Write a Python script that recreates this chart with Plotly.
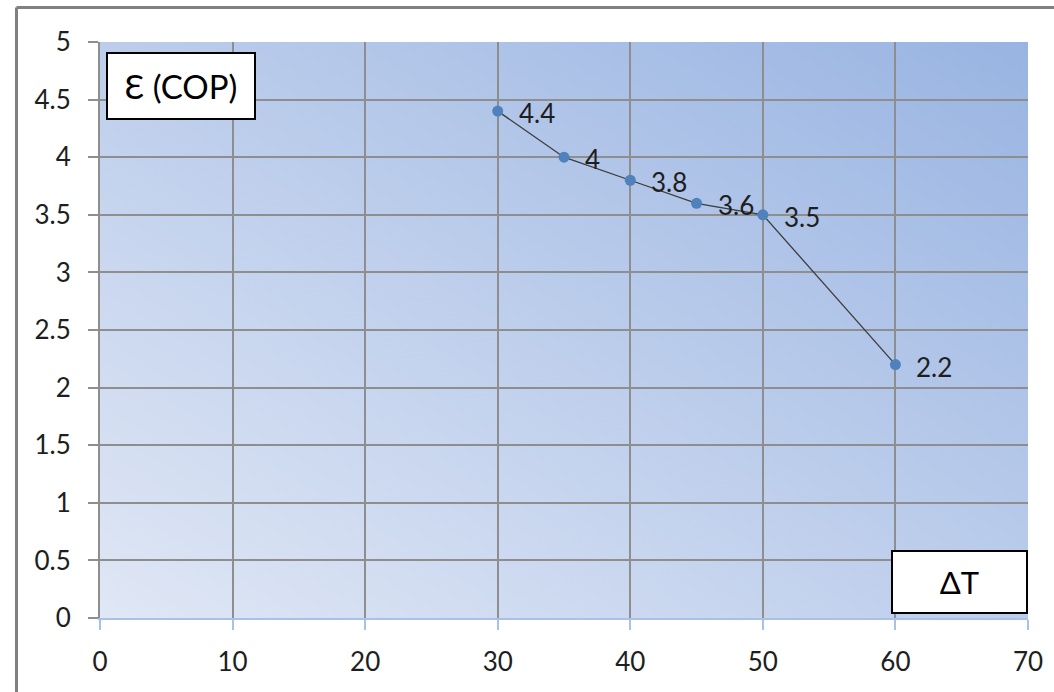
import base64
import plotly.graph_objects as go

# Temperature difference vs coefficient of performance
delta_t = [30, 35, 40, 45, 50, 60]
cop = [4.4, 4.0, 3.8, 3.6, 3.5, 2.2]
cop_labels = ["4.4", "4", "3.8", "3.6", "3.5", "2.2"]

x_ticks = [0, 10, 20, 30, 40, 50, 60, 70]
y_ticks = [0, 0.5, 1, 1.5, 2, 2.5, 3, 3.5, 4, 4.5, 5]
y_tick_text = ["0", "0.5", "1", "1.5", "2", "2.5", "3", "3.5", "4", "4.5", "5"]

W, H = 1054, 692
L, R, T, B = 100, 26, 42, 74
PW, PH = W - L - R, H - T - B

FONT = "Lato"
TEXT_COLOR = "#1e1e1e"


def px_x(p):
    return (p - L) / PW


def px_y(p):
    return (H - B - p) / PH


# diagonal light-to-blue fill for the plotting area
svg = (
    '<svg xmlns="http://www.w3.org/2000/svg" width="928" height="576" '
    'preserveAspectRatio="none"><defs><linearGradient id="g" x1="0" y1="1" '
    'x2="1" y2="0"><stop offset="0" stop-color="#e0e7f5"/>'
    '<stop offset="1" stop-color="#99b4e2"/></linearGradient></defs>'
    '<rect width="100%" height="100%" fill="url(#g)"/></svg>'
)
bg_src = "data:image/svg+xml;base64," + base64.b64encode(svg.encode()).decode()

fig = go.Figure()
fig.add_trace(
    go.Scatter(
        x=delta_t,
        y=cop,
        mode="lines+markers",
        line=dict(color="#3c3c3c", width=1.3),
        marker=dict(color="#4f81bd", size=11),
        showlegend=False,
    )
)

# value labels to the right of each point
for xv, yv, lab in zip(delta_t, cop, cop_labels):
    fig.add_annotation(
        x=xv, y=yv, text=lab, showarrow=False,
        xanchor="left", yanchor="middle", xshift=19, yshift=-2,
        font=dict(family=FONT, size=26, color=TEXT_COLOR),
    )

fig.add_layout_image(
    dict(
        source=bg_src,
        xref="paper",
        yref="paper",
        x=0,
        y=1,
        sizex=1,
        sizey=1,
        sizing="stretch",
        xanchor="left",
        yanchor="top",
        layer="below",
    )
)

# outer chart frame (top and left edges)
frame = "#808080"
fig.add_shape(type="line", xref="paper", yref="paper",
              x0=px_x(16.5), x1=px_x(W + 5), y0=px_y(7.5), y1=px_y(7.5),
              line=dict(color=frame, width=3))
fig.add_shape(type="line", xref="paper", yref="paper",
              x0=px_x(16.5), x1=px_x(16.5), y0=px_y(7.5), y1=px_y(H + 5),
              line=dict(color=frame, width=3))

# axis caption boxes
fig.add_annotation(
    text="Ɛ (COP)", xref="paper", yref="paper",
    x=px_x(181), y=px_y(85.5), xanchor="center", yanchor="middle",
    showarrow=False, width=146, height=64,
    bgcolor="white", bordercolor="black", borderwidth=2, borderpad=0,
    font=dict(family=FONT, size=33, color="black"),
)
fig.add_annotation(
    text="ΔT", xref="paper", yref="paper",
    x=px_x(959.5), y=px_y(582), xanchor="center", yanchor="middle",
    showarrow=False, width=133, height=60,
    bgcolor="white", bordercolor="black", borderwidth=2, borderpad=0,
    font=dict(family=FONT, size=31, color="black"),
)

grid = "#8e8e8e"
fig.update_xaxes(
    range=[0, 70],
    tickvals=x_ticks,
    ticktext=[str(v) for v in x_ticks],
    showgrid=True, gridcolor=grid, gridwidth=2,
    zeroline=False,
    showline=True, linecolor="#a9c1ea", linewidth=2,
    ticks="outside", ticklen=10, tickwidth=2, tickcolor="#a9c1ea",
    ticklabelstandoff=10,
    tickfont=dict(family=FONT, size=26, color=TEXT_COLOR),
)
fig.update_yaxes(
    range=[0, 5],
    tickvals=y_ticks,
    ticktext=y_tick_text,
    showgrid=True, gridcolor=grid, gridwidth=2,
    zeroline=False,
    showline=True, linecolor=grid, linewidth=2,
    ticks="outside", ticklen=10, tickwidth=2, tickcolor=grid,
    ticklabelstandoff=12,
    tickfont=dict(family=FONT, size=26, color=TEXT_COLOR),
)

fig.update_layout(
    width=W,
    height=H,
    margin=dict(l=L, r=R, t=T, b=B, pad=0),
    paper_bgcolor="white",
    plot_bgcolor="rgba(0,0,0,0)",
    font=dict(family=FONT),
)

fig.write_html("out.html")
